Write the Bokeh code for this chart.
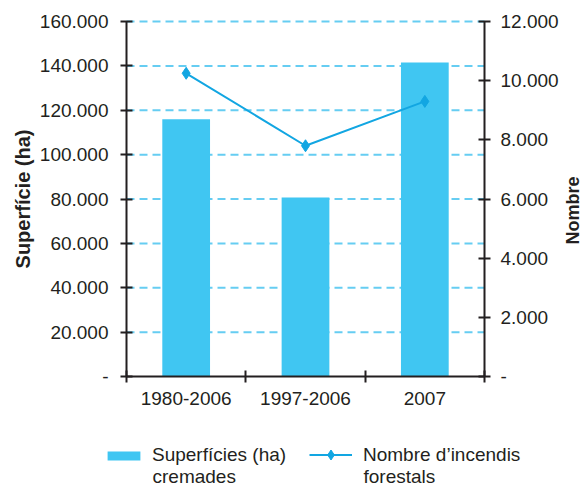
import math
from bokeh.plotting import figure
from bokeh.models import Range1d, LinearAxis, FixedTicker, Legend, LegendItem, ColumnDataSource, Label
from bokeh.embed import file_html
from bokeh.resources import INLINE

# ---- data ----
categories = ["1980-2006", "1997-2006", "2007"]
area_burned_ha = [116000, 80700, 141500]
fire_count = [10250, 7800, 9300]

left_ticks = [0, 20000, 40000, 60000, 80000, 100000, 120000, 140000, 160000]
left_tick_labels = ["-", "20.000", "40.000", "60.000", "80.000", "100.000", "120.000", "140.000", "160.000"]
right_ticks = [0, 2000, 4000, 6000, 8000, 10000, 12000]
right_tick_labels = ["-", "2.000", "4.000", "6.000", "8.000", "10.000", "12.000"]

legend_line1 = ["Superfícies (ha)", "Nombre d’incendis"]
legend_line2 = ["cremades", "forestals"]

FONT = "Liberation Sans"
DARK = "#231F20"
BAR = "#40C6F2"
LINE = "#12A6E2"
GRID = "#66CDF2"

# ---- layout (pixels) ----
W, H = 587, 488
PL, PR, PT, PB = 126, 484, 21, 376   # plot area edges
ncat = len(categories)
ux = (PR - PL) / ncat                 # px per category
ly = (PB - PT) / (left_ticks[-1] - left_ticks[0])
ry = (PB - PT) / (right_ticks[-1] - right_ticks[0])
x_range = Range1d(-PL / ux, ncat + (W - PR) / ux)
y_range = Range1d(left_ticks[0] - (H - PB) / ly, left_ticks[-1] + PT / ly)
n_range = Range1d(right_ticks[0] - (H - PB) / ry, right_ticks[-1] + PT / ry)
def px_x(px):
    return (px - PL) / ux
def px_y(py):
    return left_ticks[0] + (PB - py) / ly

xpos = [i + 0.5 for i in range(ncat)]
src = ColumnDataSource(dict(x=xpos, area=area_burned_ha, fires=fire_count))

p = figure(width=W, height=H, x_range=x_range, y_range=y_range,
           output_backend="svg", toolbar_location=None, min_border=0)
p.extra_y_ranges = {"n": n_range}
p.outline_line_color = None
p.background_fill_color = "white"
p.border_fill_color = "white"

# grid lines (dashed, across the plot area only)
p.xgrid.grid_line_color = None
p.ygrid.grid_line_color = None
p.segment(x0=0, x1=ncat, y0=left_ticks[1:], y1=left_ticks[1:],
          line_color=GRID, line_width=2, line_dash="8 5")

bars = p.vbar(x="x", top="area", width=0.4, source=src, fill_color=BAR, line_color=None)
ln = p.line(x="x", y="fires", source=src, y_range_name="n", line_color=LINE, line_width=2)
mk = p.scatter(x="x", y="fires", source=src, y_range_name="n", marker="diamond", size=12,
               fill_color=LINE, line_color=LINE)

def style_axis(ax):
    ax.axis_line_color = DARK
    ax.axis_line_width = 2
    ax.major_tick_line_color = DARK
    ax.major_tick_line_width = 2
    ax.minor_tick_line_color = DARK
    ax.minor_tick_line_width = 2
    ax.major_label_text_font = FONT
    ax.major_label_text_color = DARK
    ax.major_label_text_font_size = "19px"
    ax.axis_label_text_font = FONT
    ax.axis_label_text_font_style = "bold"
    ax.axis_label_text_color = DARK
    ax.axis_label_text_font_size = "20px"

# x axis
xa = p.xaxis[0]
style_axis(xa)
xa.fixed_location = left_ticks[0]
xa.bounds = (0, ncat)
xa.ticker = FixedTicker(ticks=xpos, minor_ticks=list(range(ncat + 1)))
xa.major_label_overrides = {x: c for x, c in zip(xpos, categories)}
xa.major_tick_in = 0
xa.major_tick_out = 0
xa.minor_tick_in = 6
xa.minor_tick_out = 6
xa.major_label_standoff = 9

# left axis
ya = p.yaxis[0]
style_axis(ya)
ya.fixed_location = 0
ya.bounds = (left_ticks[0], left_ticks[-1])
ya.ticker = FixedTicker(ticks=left_ticks, minor_ticks=[])
ya.major_label_overrides = {t: l for t, l in zip(left_ticks, left_tick_labels)}
ya.major_tick_in = 6
ya.major_tick_out = 6
ya.major_label_standoff = 12
ya.axis_label = "Superfície (ha)"
ya.axis_label_standoff = 3

# right axis
ra = LinearAxis(y_range_name="n", fixed_location=ncat)
style_axis(ra)
ra.bounds = (right_ticks[0], right_ticks[-1])
ra.ticker = FixedTicker(ticks=right_ticks, minor_ticks=[])
ra.major_label_overrides = {t: l for t, l in zip(right_ticks, right_tick_labels)}
ra.major_tick_in = 6
ra.major_tick_out = 6
ra.major_label_standoff = 10
p.add_layout(ra, "right")

# right axis title, reading bottom-to-top
p.add_layout(Label(x=px_x(572), y=px_y(210), text="Nombre", angle=90, angle_units="deg",
                   text_align="center", text_baseline="middle", text_font=FONT,
                   text_font_style="bold", text_font_size="18px", text_color=DARK))

# ---- legend under the chart ----
specs = [
    (legend_line1[0], legend_line2[0], [bars], 103, 41, 11, 8, 22),
    (legend_line1[1], legend_line2[1], [ln, mk], 309, 43, 25, 11, 21),
]
for l1, l2, rends, x0, gw, gh, so, yb in specs:
    lg = Legend(items=[LegendItem(label=l1, renderers=rends)], location=(x0, yb))
    lg.border_line_color = None
    lg.background_fill_alpha = 0
    lg.label_text_font = FONT
    lg.label_text_font_size = "19px"
    lg.label_text_color = DARK
    lg.glyph_width = gw
    lg.glyph_height = gh
    lg.label_standoff = so
    lg.padding = 0
    lg.margin = 0
    p.add_layout(lg)
    p.add_layout(Label(x=px_x(x0 + gw + so), y=px_y(476), text=l2, text_font=FONT,
                       text_font_size="19px", text_color=DARK,
                       text_baseline="alphabetic", text_align="left"))

open("out.html", "w").write(file_html(p, INLINE))
